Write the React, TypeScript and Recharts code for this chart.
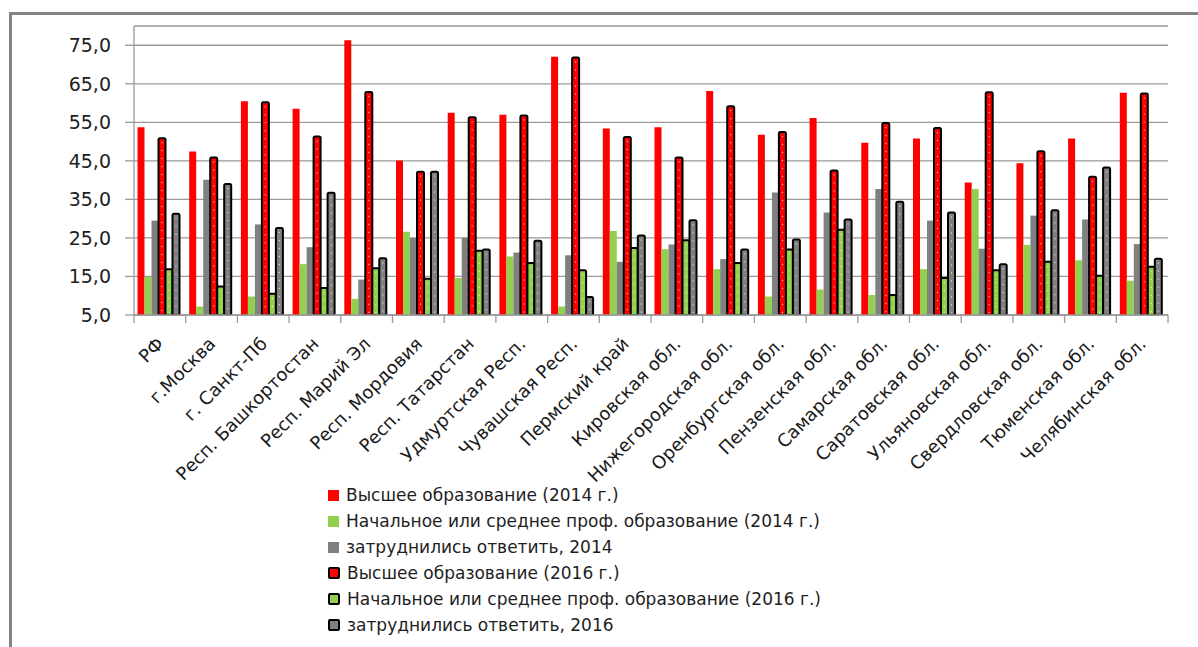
import React from "react";
import { BarChart, Bar, XAxis, YAxis, CartesianGrid } from "recharts";

const categories = [
  "РФ",
  "г.Москва",
  "г. Санкт-Пб",
  "Респ. Башкортостан",
  "Респ. Марий Эл",
  "Респ. Мордовия",
  "Респ. Татарстан",
  "Удмуртская Респ.",
  "Чувашская Респ.",
  "Пермский край",
  "Кировская обл.",
  "Нижегородская обл.",
  "Оренбургская обл.",
  "Пензенская обл.",
  "Самарская обл.",
  "Саратовская обл.",
  "Ульяновская обл.",
  "Свердловская обл.",
  "Тюменская обл.",
  "Челябинская обл.",
];

const high2014 = [53.7, 47.4, 60.5, 58.5, 76.3, 45.1, 57.5, 57.0, 72.0, 53.4, 53.7, 63.1, 51.8, 56.1, 49.7, 50.8, 39.4, 44.4, 50.8, 62.7];
const prof2014 = [14.9, 7.2, 9.8, 18.2, 9.2, 26.6, 14.6, 20.2, 7.2, 26.8, 22.1, 16.9, 9.8, 11.6, 10.2, 16.9, 37.7, 23.2, 19.2, 13.9];
const hard2014 = [29.5, 40.1, 28.5, 22.6, 14.2, 25.0, 25.0, 21.2, 20.5, 18.8, 23.3, 19.5, 36.8, 31.6, 37.7, 29.5, 22.2, 30.8, 29.8, 23.4];
const high2016 = [50.9, 45.9, 60.2, 51.3, 62.9, 42.2, 56.3, 56.8, 71.8, 51.2, 45.9, 59.2, 52.5, 42.5, 54.8, 53.5, 62.8, 47.5, 40.9, 62.5];
const prof2016 = [16.9, 12.4, 10.5, 12.0, 17.1, 14.4, 21.7, 18.5, 16.6, 22.4, 24.4, 18.5, 22.0, 27.1, 10.2, 14.6, 16.6, 18.8, 15.2, 17.5];
const hard2016 = [31.3, 39.0, 27.6, 36.7, 19.7, 42.2, 22.0, 24.3, 9.7, 25.6, 29.6, 22.0, 24.6, 29.8, 34.4, 31.6, 18.2, 32.2, 43.3, 19.6];

const yTicks = [5, 15, 25, 35, 45, 55, 65, 75];

const SERIES = [
  { key: "h14", name: "Высшее образование (2014 г.)", color: "#ff0000", outlined: false },
  { key: "p14", name: "Начальное или среднее проф. образование (2014 г.)", color: "#92d050", outlined: false },
  { key: "d14", name: "затруднились ответить, 2014", color: "#808080", outlined: false },
  { key: "h16", name: "Высшее образование (2016 г.)", color: "#ff0000", outlined: true },
  { key: "p16", name: "Начальное или среднее проф. образование (2016 г.)", color: "#92d050", outlined: true },
  { key: "d16", name: "затруднились ответить, 2016", color: "#808080", outlined: true },
];

const data = categories.map((name, i) => ({
  name,
  h14: high2014[i],
  p14: prof2014[i],
  d14: hard2014[i],
  h16: high2016[i],
  p16: prof2016[i],
  d16: hard2016[i],
}));

const FONT = "'DejaVu Sans', Verdana, sans-serif";

// 2016 bars: black outline with a dotted light line down the middle
const OutlinedBar = (props: any) => {
  const { x, y, width, height, fill } = props;
  if (!height || height <= 0) return null;
  const cx = x + width / 2;
  return (
    <g>
      <rect x={x} y={y} width={width} height={height} fill={fill} stroke="#000" strokeWidth={2} rx={1.5} />
      <line
        x1={cx}
        x2={cx}
        y1={y + 4}
        y2={y + height - 2}
        stroke="#f4f4f4"
        strokeWidth={1}
        strokeDasharray="1 7"
      />
    </g>
  );
};

const CategoryTick = (props: any) => {
  const { x, y, payload, index } = props;
  const half = payload?.offset ?? 0;
  const tx = x + 5;
  const ty = y + 30;
  return (
    <g>
      <line x1={x - half} x2={x - half} y1={y} y2={y + 8} stroke="#9a9a9a" strokeWidth={1.3} />
      {index === categories.length - 1 && (
        <line x1={x + half} x2={x + half} y1={y} y2={y + 8} stroke="#9a9a9a" strokeWidth={1.3} />
      )}
      <text
        x={tx}
        y={ty}
        transform={`rotate(-45, ${tx}, ${ty})`}
        textAnchor="end"
        fontSize={18}
        fontFamily={FONT}
        fill="#1a1a1a"
      >
        {payload.value}
      </text>
    </g>
  );
};

function LegendBox() {
  return (
    <div
      style={{
        position: "absolute",
        left: 328,
        top: 482,
        fontFamily: FONT,
        fontSize: 17,
        color: "#1e1e1e",
      }}
    >
      {SERIES.map((s) => (
        <div key={s.key} style={{ display: "flex", alignItems: "center", height: 26, whiteSpace: "nowrap" }}>
          <span
            style={{
              display: "inline-block",
              width: s.outlined ? 8 : 11,
              height: s.outlined ? 8 : 11,
              background: s.color,
              border: s.outlined ? "2px solid #000" : "none",
              borderRadius: s.outlined ? 2 : 0,
              marginRight: 7,
            }}
          />
          {s.name}
        </div>
      ))}
    </div>
  );
}

export default function App() {
  return (
    <div style={{ position: "absolute", left: 0, top: 0, width: 1198, height: 647, overflow: "hidden", background: "#fff" }}>
      <div
        style={{
          position: "absolute",
          left: 9,
          top: 12,
          width: 1400,
          height: 900,
          borderTop: "3px solid #858585",
          borderLeft: "3px solid #858585",
        }}
      />
      <div style={{ position: "absolute", left: 0, top: 0 }}>
        <BarChart
          width={1198}
          height={647}
          data={data}
          margin={{ top: 26, right: 30, left: 0, bottom: 167 }}
          barCategoryGap={3.5}
          barGap={0}
        >
          <CartesianGrid vertical={false} stroke="#9a9a9a" strokeWidth={1.3} />
          <XAxis
            dataKey="name"
            interval={0}
            height={165}
            tickLine={false}
            tickSize={0}
            tickMargin={0}
            axisLine={{ stroke: "#9a9a9a", strokeWidth: 1.3 }}
            tick={<CategoryTick />}
          />
          <YAxis
            width={134}
            domain={[5, 80]}
            ticks={yTicks}
            allowDataOverflow
            tickSize={9}
            tickMargin={14}
            axisLine={{ stroke: "#9a9a9a", strokeWidth: 1.3 }}
            tickLine={{ stroke: "#9a9a9a", strokeWidth: 1.3 }}
            tickFormatter={(v: number) => v.toFixed(1).replace(".", ",")}
            tick={{ fontSize: 19, fontFamily: FONT, fill: "#1e1e1e" }}
          />
          {SERIES.map((s) =>
            s.outlined ? (
              <Bar key={s.key} dataKey={s.key} name={s.name} fill={s.color} isAnimationActive={false} shape={OutlinedBar} />
            ) : (
              <Bar key={s.key} dataKey={s.key} name={s.name} fill={s.color} isAnimationActive={false} />
            )
          )}
        </BarChart>
      </div>
      <LegendBox />
    </div>
  );
}
